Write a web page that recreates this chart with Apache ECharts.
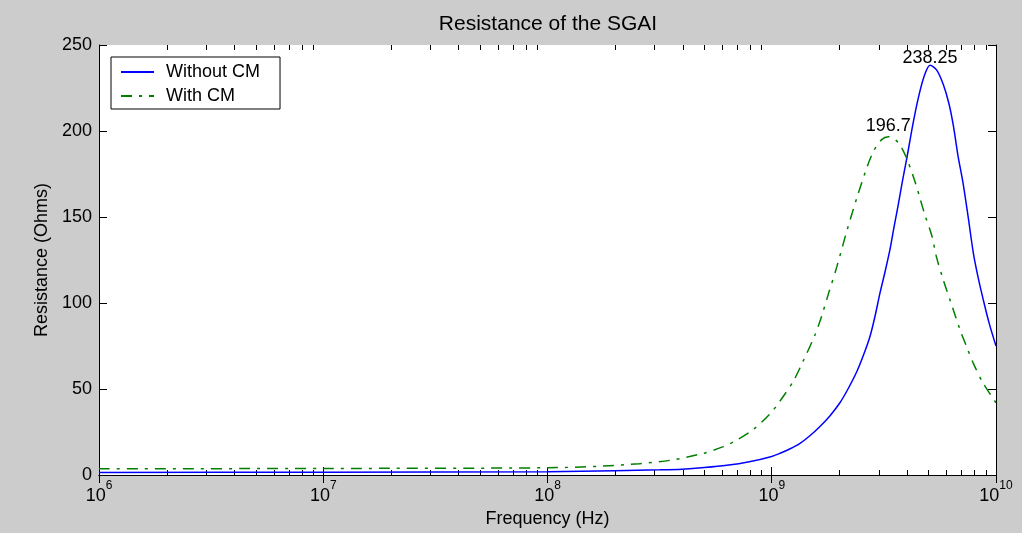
<!DOCTYPE html>
<html>
<head>
<meta charset="utf-8">
<script src="https://cdn.jsdelivr.net/npm/echarts@6/dist/echarts.min.js"></script>
<style>
html,body{margin:0;padding:0;background:#cccccc;}
#chart{width:1022px;height:533px;}
</style>
</head>
<body>
<div id="chart"></div>
<script>
// ---- data (frequency given as log10 exponent, resistance in Ohms) ----
const titleText = 'Resistance of the SGAI';
const xName = 'Frequency (Hz)';
const yName = 'Resistance (Ohms)';
const seriesNames = ['Without CM', 'With CM'];

const freqExpBlue = [6, 7, 8, 8.3, 8.5, 8.6, 8.7, 8.8, 8.9, 9.0, 9.04, 9.08, 9.126, 9.17, 9.215, 9.26, 9.304, 9.34, 9.379, 9.41, 9.438, 9.46, 9.483, 9.505, 9.527, 9.545, 9.564, 9.583, 9.602, 9.631, 9.655, 9.68, 9.706, 9.735, 9.765, 9.79, 9.81, 9.83, 9.854, 9.877, 9.899, 9.92, 9.943, 9.97, 10];
const resBlue = [1.5, 1.6, 1.9, 2.5, 3.0, 3.4, 4.3, 5.6, 7.7, 10.8, 12.8, 15.1, 18.4, 22.8, 28.2, 34.5, 42, 50, 60, 70, 80.5, 92, 106, 118, 131, 144, 157, 171, 184, 205, 220, 232, 238.25, 235.5, 227, 216, 203, 186, 169, 149, 129, 115, 102, 88, 75];

const freqExpGreen = [6, 7, 8, 8.25, 8.41, 8.55, 8.695, 8.784, 8.843, 8.918, 8.992, 9.037, 9.096, 9.141, 9.193, 9.223, 9.252, 9.29, 9.334, 9.379, 9.423, 9.453, 9.49, 9.52, 9.55, 9.572, 9.602, 9.639, 9.661, 9.683, 9.713, 9.735, 9.765, 9.795, 9.84, 9.869, 9.899, 9.943, 10];
const resGreen = [3.6, 3.8, 4.2, 5.2, 6.6, 8.6, 12.6, 16.5, 20.2, 26.5, 35.5, 43, 54.5, 66.5, 81.5, 92.5, 105, 121, 141.5, 160.9, 178.3, 188, 195, 196.7, 195, 191.9, 184, 170.5, 160.9, 151.2, 139.5, 126.5, 113.4, 101.7, 84.3, 74.6, 64.9, 53.3, 42];

const xMinExp = 6, xMaxExp = 10;
const yTicks = [0, 50, 100, 150, 200, 250];
const minorMultipliers = [2, 3, 4, 5, 6, 7, 8, 9];

// ---- build ----
const FONT = '"Liberation Sans", Arial, Helvetica, sans-serif';
const toPairs = (ex, ys) => ex.map((e, i) => [Math.pow(10, e), ys[i]]);
const minorTicks = [];
for (let k = xMinExp; k < xMaxExp; k++) {
  minorMultipliers.forEach(m => minorTicks.push([m * Math.pow(10, k), 0]));
}
const yMin = yTicks[0], yMax = yTicks[yTicks.length - 1];
const yInterval = yTicks[1] - yTicks[0];

const chart = echarts.init(document.getElementById('chart'));
const axisCommonX = {
  type: 'log', logBase: 10,
  min: Math.pow(10, xMinExp), max: Math.pow(10, xMaxExp),
  splitLine: {show: false},
  axisLine: {show: true, lineStyle: {color: '#000', width: 1}},
  axisTick: {show: true, inside: true, length: 8, lineStyle: {color: '#000'}}
};
const axisCommonY = {
  type: 'value', min: yMin, max: yMax, interval: yInterval,
  splitLine: {show: false},
  axisLine: {show: true, lineStyle: {color: '#000', width: 1}},
  axisTick: {show: true, inside: true, length: 8, lineStyle: {color: '#000'}}
};

chart.setOption({
  backgroundColor: '#cccccc',
  animation: false,
  textStyle: {fontFamily: FONT},
  title: {
    text: titleText, left: 543, top: 9, textAlign: 'center',
    textStyle: {fontFamily: FONT, fontSize: 21, fontWeight: 'normal', color: '#000'}
  },
  grid: {left: 99, right: 26, top: 45, bottom: 58, show: true, backgroundColor: '#fff', borderWidth: 0,
    containLabel: false, outerBoundsMode: 'none'},
  legend: {
    data: seriesNames,
    orient: 'vertical', left: 111, top: 57,
    itemWidth: 33, itemHeight: 20, itemGap: 6,
    padding: [6, 20, 4, 9],
    borderColor: '#000', borderWidth: 1, backgroundColor: '#fff',
    itemStyle: {opacity: 0, borderWidth: 0},
    textStyle: {fontFamily: FONT, fontSize: 18, color: '#000', padding: [0, 0, 0, 7]}
  },
  xAxis: [
    Object.assign({}, axisCommonX, {
      position: 'bottom',
      name: xName, nameLocation: 'middle', nameGap: 35,
      nameTextStyle: {fontFamily: FONT, fontSize: 18, color: '#000'},
      axisLabel: {
        margin: 5, color: '#000',
        formatter: v => '{a|10}{b|' + Math.round(Math.log10(v)) + '}',
        rich: {
          a: {fontFamily: FONT, fontSize: 18, lineHeight: 25, verticalAlign: 'bottom', color: '#000'},
          b: {fontFamily: FONT, fontSize: 12, lineHeight: 12, verticalAlign: 'top', color: '#000'}
        }
      }
    }),
    Object.assign({}, axisCommonX, {position: 'top', axisLabel: {show: false}})
  ],
  yAxis: [
    Object.assign({}, axisCommonY, {
      position: 'left',
      name: yName, nameLocation: 'middle', nameGap: 46, nameRotate: 90,
      nameTextStyle: {fontFamily: FONT, fontSize: 18, color: '#000'},
      axisLabel: {margin: 7, color: '#000', fontFamily: FONT, fontSize: 18}
    }),
    Object.assign({}, axisCommonY, {position: 'right', axisLabel: {show: false}})
  ],
  series: [
    {
      name: seriesNames[0], type: 'line', xAxisIndex: 0, yAxisIndex: 0,
      data: toPairs(freqExpBlue, resBlue),
      showSymbol: false, symbol: 'none', smooth: 0.3,
      lineStyle: {color: '#0000ff', width: 1.5},
      itemStyle: {color: '#0000ff'},
      markPoint: {
        data: [{type: 'max'}],
        symbol: 'circle', symbolSize: 1,
        itemStyle: {color: 'rgba(0,0,0,0)'},
        label: {show: true, position: 'top', distance: -2, color: '#000', fontFamily: FONT, fontSize: 18,
          formatter: p => String(p.value)}
      }
    },
    {
      name: seriesNames[1], type: 'line', xAxisIndex: 0, yAxisIndex: 0,
      data: toPairs(freqExpGreen, resGreen),
      showSymbol: false, symbol: 'none', smooth: 0.3,
      lineStyle: {color: '#008000', width: 1.5, type: [11, 7, 3, 7]},
      itemStyle: {color: '#008000'},
      markPoint: {
        data: [{type: 'max'}],
        symbol: 'circle', symbolSize: 1,
        itemStyle: {color: 'rgba(0,0,0,0)'},
        label: {show: true, position: 'top', distance: 1, color: '#000', fontFamily: FONT, fontSize: 18,
          formatter: p => String(p.value)}
      }
    },
    {
      name: 'minorTicks', type: 'custom', xAxisIndex: 0, yAxisIndex: 0,
      data: minorTicks, silent: true, clip: false,
      renderItem: (params, api) => {
        const f = api.value(0);
        const b = api.coord([f, yMin]);
        const t = api.coord([f, yMax]);
        const x = Math.round(b[0]) + 0.5;
        return {
          type: 'group',
          children: [
            {type: 'line', shape: {x1: x, y1: b[1], x2: x, y2: b[1] - 5}, style: {stroke: '#000', lineWidth: 1}},
            {type: 'line', shape: {x1: x, y1: t[1], x2: x, y2: t[1] + 5}, style: {stroke: '#000', lineWidth: 1}}
          ]
        };
      }
    }
  ]
});
</script>
</body>
</html>
